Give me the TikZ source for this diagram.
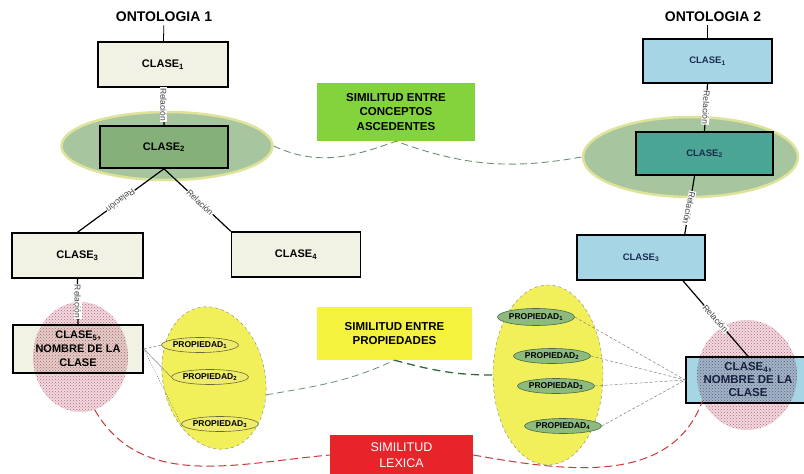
\documentclass[tikz,border=0pt]{standalone}
\usepackage{fontspec}
\setmainfont{Liberation Sans}
\usetikzlibrary{shapes.geometric,patterns}

\definecolor{paleL}{HTML}{F1F1E4}
\definecolor{leafG}{HTML}{86B07A}
\definecolor{haloG}{HTML}{A7C6A0}
\definecolor{haloRim}{HTML}{DFE39A}
\definecolor{skyB}{HTML}{A6D6E6}
\definecolor{tealB}{HTML}{4AA595}
\definecolor{navy}{HTML}{1B2B4F}
\definecolor{limeG}{HTML}{82D33C}
\definecolor{lemon}{HTML}{F4F23C}
\definecolor{alarm}{HTML}{E8242B}
\definecolor{yelF}{HTML}{F2F05A}
\definecolor{propY}{HTML}{EEEC6A}
\definecolor{propYrim}{HTML}{6B6B3A}
\definecolor{propG}{HTML}{8DBA7D}
\definecolor{propGrim}{HTML}{4D6B45}
\definecolor{simGray}{HTML}{6F8F74}
\definecolor{deepG}{HTML}{2F6A3A}
\definecolor{lexRed}{HTML}{C8383C}
\definecolor{pinkF}{HTML}{F2D9E0}
\definecolor{pinkD}{HTML}{C07888}

\tikzset{
  title/.style={font=\bfseries\fontsize{14}{16}\selectfont},
  box/.style={draw=black, line width=1.5pt, inner sep=0pt, align=center,
    font=\bfseries\fontsize{11}{14}\selectfont},
  leftbox/.style={box, fill=paleL},
  bluebox/.style={box, fill=skyB, text=navy, font=\bfseries\fontsize{9.5}{13}\selectfont},
  simbox/.style={inner sep=0pt, align=center, font=\bfseries\fontsize{11.5}{14.5}\selectfont},
  rel/.style={draw=black, line width=1.2pt},
  rellab/.style={font=\fontsize{8.5}{9}\selectfont, text=black!75, fill=white,
    inner sep=0.6pt},
  halo/.style={ellipse, inner sep=0pt, fill=haloG, draw=haloRim, line width=2.5pt},
  dotted cloud/.style={ellipse, inner sep=0pt, fill=pinkF,
    postaction={pattern=crosshatch dots, pattern color=pinkD}},
  propcloud/.style={ellipse, inner sep=0pt, fill=yelF, draw=gray, dashed, thin},
  propL/.style={ellipse, inner sep=0pt, fill=propY, draw=propYrim, line width=0.6pt,
    font=\bfseries\fontsize{8.5}{9}\selectfont},
  propR/.style={ellipse, inner sep=0pt, fill=propG, draw=propGrim, line width=0.6pt,
    font=\bfseries\fontsize{8.5}{9}\selectfont},
  proplink/.style={draw=gray, line width=0.5pt, dash pattern=on 3pt off 2pt},
  simlink/.style={draw=simGray, line width=0.9pt, dash pattern=on 7pt off 4pt},
  lexlink/.style={draw=lexRed, line width=1pt, dash pattern=on 8pt off 4pt},
}

\begin{document}
\begin{tikzpicture}[x=1pt, y=-1pt]
\useasboundingbox[fill=white] (0,0) rectangle (804,474);

% ---------- Ontologia 1 ----------
\node[title] (t1) at (164,17) {ONTOLOGIA 1};
\node[halo, minimum width=211pt, minimum height=68pt] (e12) at (167,146) {};
\node[leftbox, minimum width=130pt, minimum height=45pt] (c11) at (163,64.5) {CLASE\textsubscript{1}};
\node[box, fill=leafG, minimum width=128pt, minimum height=42pt] (c12) at (164,147) {CLASE\textsubscript{2}};
\node[leftbox, minimum width=131pt, minimum height=45pt] (c13) at (77.5,255.5) {CLASE\textsubscript{3}};
\node[leftbox, minimum width=129pt, minimum height=45pt] (c14) at (296,254.5) {CLASE\textsubscript{4}};
\node[leftbox, minimum width=130pt, minimum height=48pt] (c15) at (78,349)
  {CLASE\textsubscript{5},\\NOMBRE DE LA\\CLASE};
\begin{scope}[blend mode=multiply]
  \node[dotted cloud, minimum width=95pt, minimum height=110pt] (pl) at (80.5,357) {};
\end{scope}

\draw[line width=0.8pt] (t1) -- (c11);
\draw[rel] (c11.south) -- node[rellab, pos=0.45, rotate=-90] {Relación} (c12.north);
\draw[rel] (c12.south) -- node[rellab, pos=0.5, rotate=-143] {Relación} (c13.north);
\draw[rel] (c12.south) -- node[rellab, pos=0.54, rotate=-44] {Relación} (c14.north west);
\draw[rel] (c13.south) -- node[rellab, pos=0.5, rotate=-90] {Relación} (c15.north);

% properties of the left class
\node[propcloud, minimum width=102pt, minimum height=144pt, rotate=12] (yl) at (214,378) {};
\node[propL, minimum width=74pt, minimum height=15pt] (p1l) at (200,345) {PROPIEDAD\textsubscript{1}};
\node[propL, minimum width=74pt, minimum height=15pt] (p2l) at (210,377) {PROPIEDAD\textsubscript{2}};
\node[propL, minimum width=74pt, minimum height=15pt] (p3l) at (220,424) {PROPIEDAD\textsubscript{3}};
\draw[proplink] (c15.east) -- (p1l.west);
\draw[draw=gray, line width=0.5pt] (c15.east) -- (p2l.west);
\draw[draw=gray, line width=0.5pt, dash pattern=on 1pt off 1.5pt] (c15.east) -- (p3l.west);

% ---------- Ontologia 2 ----------
\node[title] (t2) at (713,17) {ONTOLOGIA 2};
\node[halo, minimum width=215pt, minimum height=80pt] (e22) at (690.5,157) {};
\node[bluebox, minimum width=129pt, minimum height=44pt] (c21) at (707.5,61) {CLASE\textsubscript{1}};
\node[bluebox, fill=tealB, minimum width=137pt, minimum height=43pt] (c22) at (704.5,153.5) {CLASE\textsubscript{2}};
\node[bluebox, minimum width=128pt, minimum height=45pt] (c23) at (641,257.5) {CLASE\textsubscript{3}};
\node[bluebox, font=\bfseries\fontsize{11.5}{13}\selectfont, minimum width=124pt, minimum height=46pt]
  (c24) at (748,380) {CLASE\textsubscript{4},\\NOMBRE DE LA\\CLASE};
\begin{scope}[blend mode=multiply]
  \node[dotted cloud, minimum width=100pt, minimum height=110pt] (pr) at (747,375) {};
\end{scope}

\draw[line width=0.8pt] (t2.south -| c21.north) -- (c21.north);
\draw[rel] (c21.south) -- node[rellab, pos=0.5, rotate=-93] {Relación} (c22.north);
\draw[rel] (c22.-114) -- node[rellab, pos=0.55, rotate=-102] {Relación} (c23.28);
\draw[rel] (c23.-29) -- node[rellab, pos=0.5, rotate=-48] {Relación} (c24.north);

% properties of the right class
\node[propcloud, minimum width=110pt, minimum height=180pt] (yr) at (548,375) {};
\node[propR, minimum width=74pt, minimum height=17pt] (p1r) at (536,317) {PROPIEDAD\textsubscript{1}};
\node[propR, minimum width=68pt, minimum height=15pt] (p2r) at (552,356) {PROPIEDAD\textsubscript{2}};
\node[propR, minimum width=74pt, minimum height=15pt] (p3r) at (556,386) {PROPIEDAD\textsubscript{3}};
\node[propR, minimum width=74pt, minimum height=15pt] (p4r) at (563,426) {PROPIEDAD\textsubscript{4}};
\foreach \p in {p1r,p2r,p3r,p4r}
  \draw[proplink] (\p.east) -- (c24.west);

% ---------- similarity measures ----------
\node[simbox, fill=limeG, minimum width=158pt, minimum height=58pt] (simc) at (396,112)
  {SIMILITUD ENTRE\\CONCEPTOS\\ASCEDENTES};
\node[simbox, fill=lemon, minimum width=155pt, minimum height=53pt] (simp) at (394.5,333.5)
  {SIMILITUD ENTRE\\PROPIEDADES};
\node[simbox, fill=alarm, text=white, font=\fontsize{12.5}{16}\selectfont,
  minimum width=143pt, minimum height=40pt] (siml) at (401.5,455) {SIMILITUD\\LEXICA};

\draw[simlink] (e12.east) to[out=-25, in=200] (simc.south)
               to[out=-20, in=190] (e22.west);
\draw[simlink, line width=0.8pt] (yl.-30) to[out=10, in=205] (simp.south);
\draw[draw=deepG, line width=1.3pt, dash pattern=on 8pt off 5pt]
  (simp.south) to[out=-15, in=180] (yr.west);
\draw[lexlink] (pl.-75) to[out=-60, in=185] (siml.west);
\draw[lexlink] (siml.east) to[out=-10, in=-110] (pr.-150);
\end{tikzpicture}
\end{document}
